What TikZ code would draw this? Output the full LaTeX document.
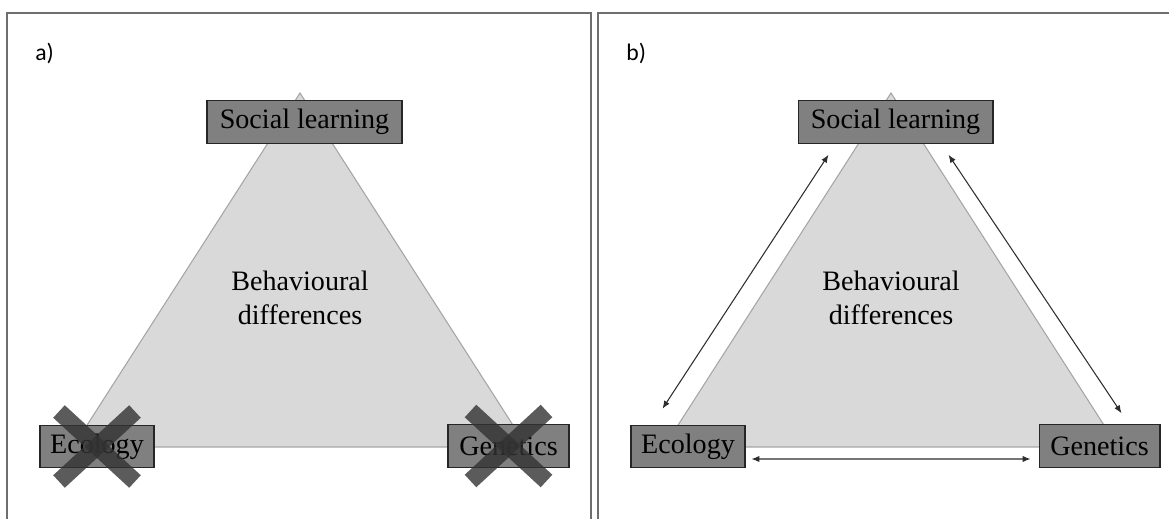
\documentclass[tikz,border=0pt]{standalone}
\usepackage{fontspec}
\setmainfont{Liberation Serif}
\newfontfamily\tagfont{Carlito}
\usetikzlibrary{positioning, calc, arrows.meta}
\definecolor{boxGray}{RGB}{128,128,128}
\definecolor{triGray}{RGB}{217,217,217}
\definecolor{edgeGray}{RGB}{165,165,165}
\definecolor{frameGray}{RGB}{110,110,110}
\definecolor{crossGray}{RGB}{50,50,50}
\definecolor{arrowGray}{RGB}{45,45,45}

\begin{document}
\begin{tikzpicture}[
    x=0.02cm, y=-0.02cm,
    factor/.style={rectangle, draw=black!85, line width=0.6pt, fill=boxGray, inner sep=0pt, minimum height=0.85cm, font=\fontsize{16}{19}\selectfont},
    area/.style={fill=triGray, draw=edgeGray, line width=0.6pt},
    panel/.style={draw=frameGray, line width=0.9pt},
    cross/.style={crossGray, line width=9.7pt, opacity=0.8},
    biarrow/.style={{Latex[length=4.5pt,width=3.6pt]}-{Latex[length=4.5pt,width=3.6pt]}, arrowGray, line width=0.6pt},
    tag/.style={font=\tagfont\fontsize{13.5}{16}\selectfont, inner sep=0pt, anchor=west}
  ]
  \useasboundingbox (0,0) rectangle (1169,519);
  \clip (0,0) rectangle (1169,519);

  % both panels share frame, triangle and the three factors
  \foreach \p/\dx in {a/0, b/591} {
    \begin{scope}[xshift=\dx*0.02cm]
      \draw[panel] (7,13) rectangle (591,540);
      \node[tag] (tag\p) at (35,53) {\p)};
      \coordinate (top\p) at (300,93);
      \coordinate (left\p) at (73,447);
      \coordinate (right\p) at (527,447);
      \draw[area] (top\p) -- (left\p) -- (right\p) -- cycle;
      \node[align=center, font=\fontsize{16}{19}\selectfont] (beh\p) at (300,298) {Behavioural\\differences};
      \node[factor, minimum width=3.9cm] (sl\p) at (304.5,122) {Social learning};
      \node[factor, minimum width=2.28cm] (eco\p) at (97,446.5) {Ecology};
      \node[factor, minimum width=2.42cm] (gen\p) at (508.5,446) {Genetics};
    \end{scope}
  }

  % a) crossed out factors
  \foreach \n in {ecoa, gena} {
    \draw[cross] ([shift={(-38,-35)}]\n.center) -- ([shift={(38,35)}]\n.center);
    \draw[cross] ([shift={(-38,35)}]\n.center) -- ([shift={(38,-35)}]\n.center);
  }

  % b) interactions
  \draw[biarrow] ([shift={(31,11)}]slb.south west) -- ([shift={(32,-16)}]ecob.north west);
  \draw[biarrow] ([shift={(-45,11)}]slb.south east) -- ([shift={(-39,-11)}]genb.north east);
  \draw[biarrow] ([shift={(6,12.5)}]ecob.east) -- ([shift={(-8,13)}]genb.west);
\end{tikzpicture}
\end{document}
